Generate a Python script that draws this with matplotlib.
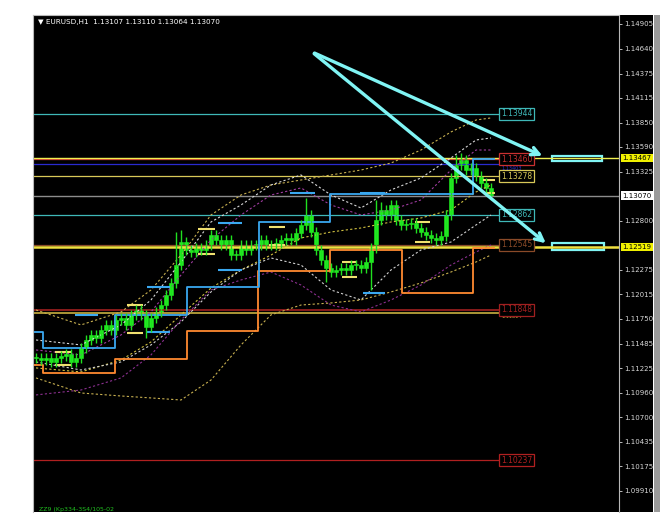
import numpy as np
import matplotlib
matplotlib.use("Agg")
import matplotlib.pyplot as plt
from matplotlib.patches import Rectangle

# EURUSD H1 closes, one per bar, left to right
closes = [1.11333, 1.11311, 1.11333, 1.11290, 1.11333, 1.11354, 1.11375, 1.11290, 1.11333, 1.11440,
          1.11525, 1.11579, 1.11546, 1.11632, 1.11686, 1.11632, 1.11739, 1.11760, 1.11686, 1.11793,
          1.11846, 1.11793, 1.11664, 1.11760, 1.11825, 1.11899, 1.12006, 1.12135, 1.12327, 1.12573,
          1.12488, 1.12466, 1.12509, 1.12488, 1.12541, 1.12648, 1.12595, 1.12541, 1.12595, 1.12434,
          1.12434, 1.12541, 1.12488, 1.12541, 1.12541, 1.12595, 1.12541, 1.12541, 1.12563, 1.12595,
          1.12616, 1.12595, 1.12670, 1.12755, 1.12862, 1.12680, 1.12488, 1.12381, 1.12295, 1.12252,
          1.12274, 1.12295, 1.12274, 1.12327, 1.12327, 1.12295, 1.12359, 1.12509, 1.12809, 1.12916,
          1.12862, 1.12969, 1.12809, 1.12755, 1.12766, 1.12777, 1.12723, 1.12680, 1.12648, 1.12616,
          1.12595, 1.12637, 1.12862, 1.13258, 1.13397, 1.13450, 1.13343, 1.13365, 1.13279, 1.13204,
          1.13151, 1.13070]
spike_highs = {28: 1.12680, 29: 1.12700, 54: 1.13044, 68: 1.13023, 69: 1.13000, 84: 1.13500, 85: 1.13525}
spike_lows = {22: 1.11550, 58: 1.12150, 67: 1.12060}

# step lines (bar where each step starts, price)
blue_step_x = [-0.6, 1.4, 15.8, 30.2, 44.6, 58.8, 87.4, 91.5]
blue_step_y = [1.11611, 1.11440, 1.11792, 1.12092, 1.12787, 1.13085, 1.13460, 1.13460]
orange_step_x = [-0.6, 1.4, 15.8, 30.2, 44.4, 58.8, 73.2, 87.4, 91.5]
orange_step_y = [1.11258, 1.11172, 1.11322, 1.11621, 1.12263, 1.12488, 1.12028, 1.12509, 1.12509]

# short fractal level marks: start bar, end bar, upper, lower
mark_x0 = [3.8, 18.2, 32.4, 46.6, 61.2, 75.8, 89.4]
mark_x1 = [7.2, 21.4, 35.8, 49.8, 64.2, 78.8, 91.8]
mark_hi = [1.11397, 1.11899, 1.12712, 1.12734, 1.12359, 1.12787, 1.13236]
mark_lo = [1.11258, 1.11600, 1.12445, 1.12541, 1.12199, 1.12573, 1.13097]
bmark_x0 = [7.8, 22.2, 22.2, 36.4, 36.4, 50.8, 64.8, 65.4]
bmark_x1 = [12.4, 26.8, 26.8, 41.2, 41.2, 55.8, 69.8, 69.8]
bmark_y = [1.11793, 1.12092, 1.11611, 1.12776, 1.12274, 1.13097, 1.13097, 1.12028]

# envelope / band curves
band_x = [0, 9, 17, 23, 29, 35, 41, 47, 53, 59, 65, 71, 77, 83, 88, 91]
band_outer_up = [1.11846, 1.11686, 1.11825, 1.12060, 1.12434, 1.12862, 1.13076, 1.13183,
                 1.13236, 1.13290, 1.13343, 1.13418, 1.13557, 1.13750, 1.13878, 1.13900]
band_white_up = [1.11525, 1.11472, 1.11686, 1.11953, 1.12359, 1.12787, 1.12969, 1.13183,
                 1.13290, 1.13076, 1.12937, 1.13130, 1.13258, 1.13472, 1.13664, 1.13686]
band_purple_up = [1.11418, 1.11365, 1.11579, 1.11825, 1.12220, 1.12595, 1.12862, 1.13076,
                  1.13151, 1.12969, 1.12862, 1.12916, 1.13023, 1.13343, 1.13557, 1.13557]
band_mid = [1.11226, 1.11183, 1.11311, 1.11504, 1.11793, 1.12081, 1.12274, 1.12434,
            1.12616, 1.12680, 1.12723, 1.12787, 1.12830, 1.12916, 1.13108, 1.13183]
band_white_lo = [1.11290, 1.11204, 1.11290, 1.11472, 1.11718, 1.12039, 1.12274, 1.12402,
                 1.12327, 1.12060, 1.11953, 1.12274, 1.12488, 1.12573, 1.12755, 1.12862]
band_purple_lo = [1.10937, 1.10990, 1.11119, 1.11365, 1.11739, 1.12060, 1.12167, 1.12252,
                  1.12113, 1.11899, 1.11825, 1.11953, 1.12113, 1.12327, 1.12466, 1.12541]
band_outer_lo = [1.11119, 1.10958, 1.10926, 1.10905, 1.10883, 1.11097, 1.11472, 1.11793,
                 1.11899, 1.11921, 1.11953, 1.12039, 1.12135, 1.12252, 1.12359, 1.12434]

# labelled horizontal levels
level_prices = [1.13944, 1.13403, 1.13460, 1.13278, 1.12862, 1.12545, 1.11814, 1.11848, 1.10237]
level_labels = ["1.13944", "1.13403", "1.13460", "1.13278", "1.12862", "1.12545", "1.11814", "1.11848", "1.10237"]
level_colors = ["#3fb8b8", "#2a2ad0", "#c83030", "#d8c858", "#3fb8b8", "#8a4a28", "#c8b040", "#a02020", "#b02020"]
full_prices = [1.13467, 1.13070, 1.12519]
full_colors = ["#f0f050", "#8c8c8c", "#f0e040"]

tick_values = [1.14905, 1.14640, 1.14375, 1.14115, 1.13850, 1.13590, 1.13325, 1.12800, 1.12275,
               1.12015, 1.11750, 1.11485, 1.11225, 1.10960, 1.10700, 1.10435, 1.10175, 1.09910]
price_tags = ["1.13467", "1.13070", "1.12519"]
price_tag_colors = ["#f0f000", "#ffffff", "#f0f000"]

arrow_start = (55.2, 1.14606)
arrow_ends = [(101.8, 1.13482), (102.4, 1.12541)]
boxes = [(103.2, 113.2, 1.13444, 1.13497), (103.2, 113.6, 1.12488, 1.12563)]

fig = plt.figure(figsize=(6.72, 5.25), dpi=100)
fig.patch.set_facecolor("white")
W, H = 672, 525
fig.add_artist(Rectangle((33 / W, 13 / H), 620 / W, 497 / H, transform=fig.transFigure,
                         facecolor="black", edgecolor="none", zorder=-10))
fig.add_artist(Rectangle((654 / W, 13 / H), 6 / W, 497 / H, transform=fig.transFigure,
                         facecolor="#9a9a9a", edgecolor="none", zorder=-10))

ax = fig.add_axes([33 / W, 13 / H, 586 / W, 497 / H])
ax.set_facecolor("black")
ax.set_xlim(-0.6, 116.6)
ax.set_ylim(1.09685, 1.15001)

# levels
line_end = 92.8
for p, c in zip(level_prices, level_colors):
    ax.hlines(p, -0.6, line_end, color=c, lw=1.2 if c in ("#a02020", "#c8b040") else 0.9)
for p, c in zip(full_prices, full_colors):
    ax.axhline(p, color=c, lw=1.8 if p < 1.13 else 1.0)

# bands
for yv, c in [(band_outer_up, "#c8b050"), (band_white_up, "#d8d8d8"), (band_purple_up, "#a03ca0"),
              (band_mid, "#d0c040"), (band_white_lo, "#d0d0d0"), (band_purple_lo, "#8c3090"),
              (band_outer_lo, "#c8b050")]:
    ax.plot(band_x, yv, color=c, lw=0.8, ls=(0, (2, 2)))

# step lines
ax.step(orange_step_x, orange_step_y, where="post", color="#ff8a30", lw=1.3)
ax.step(blue_step_x, blue_step_y, where="post", color="#3aa8f0", lw=1.3)
ax.hlines(mark_hi, mark_x0, mark_x1, color="#f0e070", lw=1.5)
ax.hlines(mark_lo, mark_x0, mark_x1, color="#f0e070", lw=1.5)
ax.hlines(bmark_y, bmark_x0, bmark_x1, color="#3aa8f0", lw=1.5)

# candles
closes_a = np.array(closes)
opens_a = np.concatenate([[closes[0]], closes_a[:-1]])
xs = np.arange(len(closes))
highs = np.maximum(opens_a, closes_a) + 0.0005
lows = np.minimum(opens_a, closes_a) - 0.0005
for i, v in spike_highs.items():
    highs[i] = v
for i, v in spike_lows.items():
    lows[i] = v
ax.vlines(xs, lows, highs, color="#20e020", lw=1.0)
body = np.maximum(np.abs(closes_a - opens_a), 0.0001)
ax.bar(xs, body, bottom=np.minimum(opens_a, closes_a), width=0.7, color="#20f020", edgecolor="#20f020", lw=0.4)

# level labels; the two half-hidden ones sit just under their neighbours, in smaller type
hidden = {"1.13403": -0.00012, "1.11814": -0.00012}
for p, t, c in zip(level_prices, level_labels, level_colors):
    if t in hidden:
        ax.text(line_end + 0.4, p + hidden[t], t, fontsize=3.6, color=c, va="top", ha="left")
        continue
    ax.text(line_end + 0.2, p, t, fontsize=5.5, color=c, va="center", ha="left",
            bbox=dict(boxstyle="square,pad=0.2", fc="black", ec=c, lw=0.9))

# arrows and boxes
for end in arrow_ends:
    ax.annotate("", xy=end, xytext=arrow_start,
                arrowprops=dict(arrowstyle="->", color="#80f4f4", lw=2.4, mutation_scale=14))
for (x0, x1, y0, y1), fc in zip(boxes, ["black", "none"]):
    ax.add_patch(Rectangle((x0, y0), x1 - x0, y1 - y0, facecolor=fc, edgecolor="#80f4f4", lw=1.6))

# right price axis
ax.yaxis.tick_right()
ax.set_yticks(tick_values)
ax.set_yticklabels([f"{v:.5f}" for v in tick_values])
ax.tick_params(axis="y", colors="#d8d8d8", labelsize=5, length=2, pad=2, width=0.6)
ax.set_xticks([])
for s in ["left", "right", "top"]:
    ax.spines[s].set_color("#b8b8b8")
    ax.spines[s].set_linewidth(0.8)
ax.spines["bottom"].set_visible(False)
for t, c in zip(price_tags, price_tag_colors):
    ax.text(1.006, float(t), t, transform=ax.get_yaxis_transform(), fontsize=5, color="black",
            va="center", ha="left", bbox=dict(boxstyle="square,pad=0.15", fc=c, ec="none"))

fig.text(38 / W, 1 - 22 / H, "\u25bc EURUSD,H1  1.13107 1.13110 1.13064 1.13070", fontsize=5.2,
         color="white", va="center", ha="left")
fig.text(39 / W, 1 - 509 / H, "ZZ9 (Kp334-3S4/105-02", fontsize=4.5, color="#20c020", va="center", ha="left")

fig.savefig("out.png", dpi=100, facecolor="white")
